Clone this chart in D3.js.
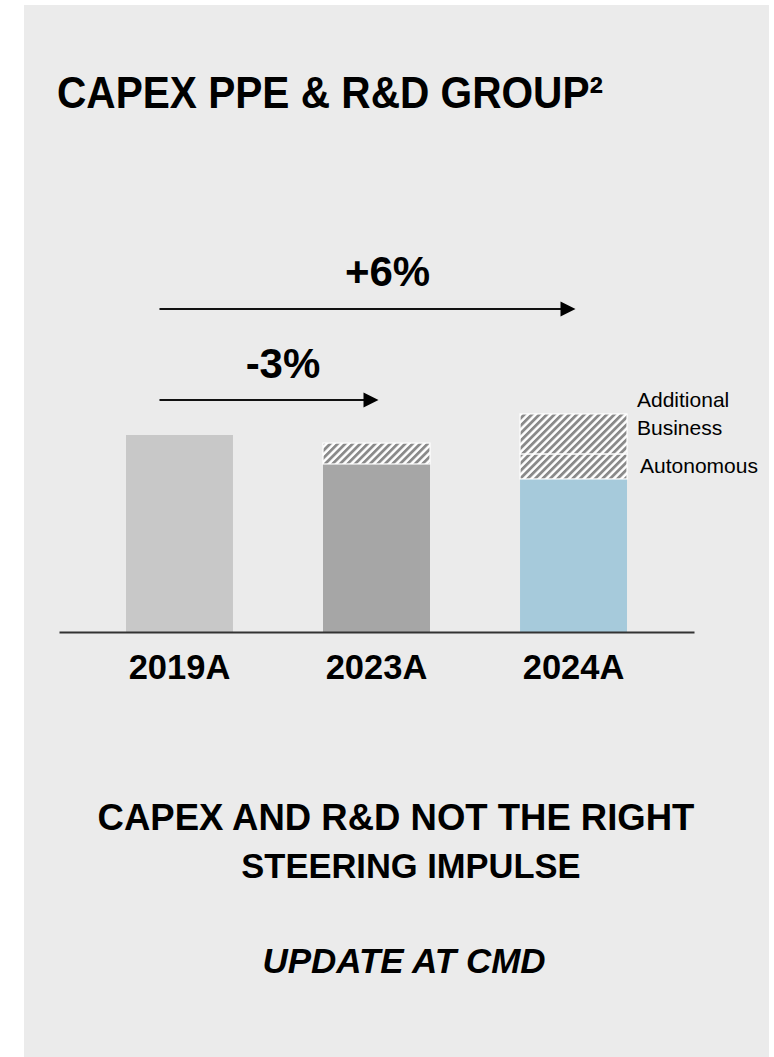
<!DOCTYPE html>
<html>
<head>
<meta charset="utf-8">
<script src="https://cdn.jsdelivr.net/npm/d3@7"></script>
<style>
  html, body { margin: 0; padding: 0; background: #ffffff; }
  svg { display: block; }
  text { font-family: "Liberation Sans", Arial, Helvetica, sans-serif; fill: #000; }
</style>
</head>
<body>
<svg id="chart" width="774" height="1057"></svg>
<script>
// Capex PPE & R&D, indexed to 2019A = 100
const categories = ["2019A", "2023A", "2024A"];
const coreValues = [100, 85.3, 77.7];
const autonomousValues = [0, 10.6, 12.7];
const additionalBusinessValues = [0, 0, 20.3];

// Growth annotations between years
const growthFrom = ["2019A", "2019A"];
const growthTo = ["2023A", "2024A"];
const growthLabels = ["-3%", "+6%"];

const svg = d3.select("#chart");
const W = 774, H = 1057;

// Panel background
svg.append("rect")
  .attr("x", 24).attr("y", 5)
  .attr("width", 745).attr("height", H - 5)
  .attr("fill", "#ebebeb");

// Title
svg.append("text")
  .attr("x", 57).attr("y", 108)
  .attr("font-size", 45)
  .attr("font-weight", 700)
  .attr("textLength", 546)
  .attr("lengthAdjust", "spacingAndGlyphs")
  .text("CAPEX PPE & R&D GROUP²");

// Scales
const x = d3.scaleBand()
  .domain(categories)
  .range([59, 694])
  .paddingInner(0.457)
  .paddingOuter(0.34);

const y = d3.scaleLinear()
  .domain([0, 100])
  .range([632, 435]);

const coreColor = d3.scaleOrdinal(categories, ["#c8c8c8", "#a6a6a6", "#a6cadb"]);

// Hatch pattern for the stacked segments
const defs = svg.append("defs");
const pat = defs.append("pattern")
  .attr("id", "hatch")
  .attr("patternUnits", "userSpaceOnUse")
  .attr("width", 5.3).attr("height", 5.3)
  .attr("patternTransform", "rotate(45)");
pat.append("rect").attr("width", 5.3).attr("height", 5.3).attr("fill", "#ffffff");
pat.append("line")
  .attr("x1", 1.4).attr("y1", 0).attr("x2", 1.4).attr("y2", 5.3)
  .attr("stroke", "#8a8a8a").attr("stroke-width", 2.8);

// Stack data
const rows = categories.map((c, i) => ({
  cat: c,
  core: coreValues[i],
  autonomous: autonomousValues[i],
  additional: additionalBusinessValues[i]
}));
const stack = d3.stack().keys(["core", "autonomous", "additional"]);
const series = stack(rows);

const g = svg.append("g");

series.forEach(s => {
  g.selectAll(null)
    .data(s.filter(d => d[1] - d[0] > 0))
    .join("rect")
    .attr("x", d => x(d.data.cat))
    .attr("width", x.bandwidth())
    .attr("y", d => y(d[1]))
    .attr("height", d => y(d[0]) - y(d[1]))
    .attr("fill", d => s.key === "core" ? coreColor(d.data.cat) : "url(#hatch)")
    .attr("stroke", s.key === "core" ? "none" : "#ffffff")
    .attr("stroke-width", s.key === "core" ? 0 : 1.2);
});

// Axis
const axis = svg.append("g")
  .attr("transform", `translate(0,${y(0)})`)
  .call(d3.axisBottom(x).tickSize(0).tickPadding(23));
axis.select(".domain")
  .attr("stroke", "#333333")
  .attr("stroke-width", 2);
axis.selectAll("text")
  .attr("font-size", 34.5)
  .attr("font-weight", 700)
  .attr("fill", "#000")
  .style("font-family", '"Liberation Sans", Arial, sans-serif');

// Segment labels next to the last bar
const last = rows[rows.length - 1];
const lx = x(last.cat) + x.bandwidth();
const addTop = y(last.core + last.autonomous + last.additional);
const autoMid = y(last.core + last.autonomous / 2);

const addLabel = svg.append("text")
  .attr("x", lx + 10)
  .attr("y", addTop - 7)
  .attr("font-size", 21);
addLabel.append("tspan").attr("x", lx + 10).text("Additional");
addLabel.append("tspan").attr("x", lx + 10).attr("dy", 28).text("Business");

svg.append("text")
  .attr("x", lx + 13)
  .attr("y", autoMid + 7)
  .attr("font-size", 21)
  .text("Autonomous");

// Growth arrows
const arrowY = [400, 309];
const labelDx = [14, 20];
const labelY = [378, 286];
growthLabels.forEach((lab, i) => {
  const x0 = x(growthFrom[i]) + x.bandwidth() / 2 - 20;
  const x1 = x(growthTo[i]) + x.bandwidth() / 2 + 2;
  const ay = arrowY[i];
  svg.append("line")
    .attr("x1", x0).attr("y1", ay)
    .attr("x2", x1 - 14).attr("y2", ay)
    .attr("stroke", "#111").attr("stroke-width", 2);
  svg.append("path")
    .attr("d", `M${x1 - 15},${ay - 7.5} L${x1},${ay} L${x1 - 15},${ay + 7.5} Z`)
    .attr("fill", "#000");
  svg.append("text")
    .attr("x", (x0 + x1) / 2 + labelDx[i])
    .attr("y", labelY[i])
    .attr("text-anchor", "middle")
    .attr("font-size", 42)
    .attr("font-weight", 700)
    .text(lab);
});

// Closing statements
const cx = 396;
svg.append("text")
  .attr("x", cx).attr("y", 830)
  .attr("text-anchor", "middle")
  .attr("font-size", 36.5)
  .attr("font-weight", 700)
  .text("CAPEX AND R&D NOT THE RIGHT");
svg.append("text")
  .attr("x", cx + 15).attr("y", 878)
  .attr("text-anchor", "middle")
  .attr("font-size", 34.5)
  .attr("font-weight", 700)
  .text("STEERING IMPULSE");
svg.append("text")
  .attr("x", cx + 8).attr("y", 973)
  .attr("text-anchor", "middle")
  .attr("font-size", 35)
  .attr("font-weight", 700)
  .attr("font-style", "italic")
  .text("UPDATE AT CMD");
</script>
</body>
</html>
